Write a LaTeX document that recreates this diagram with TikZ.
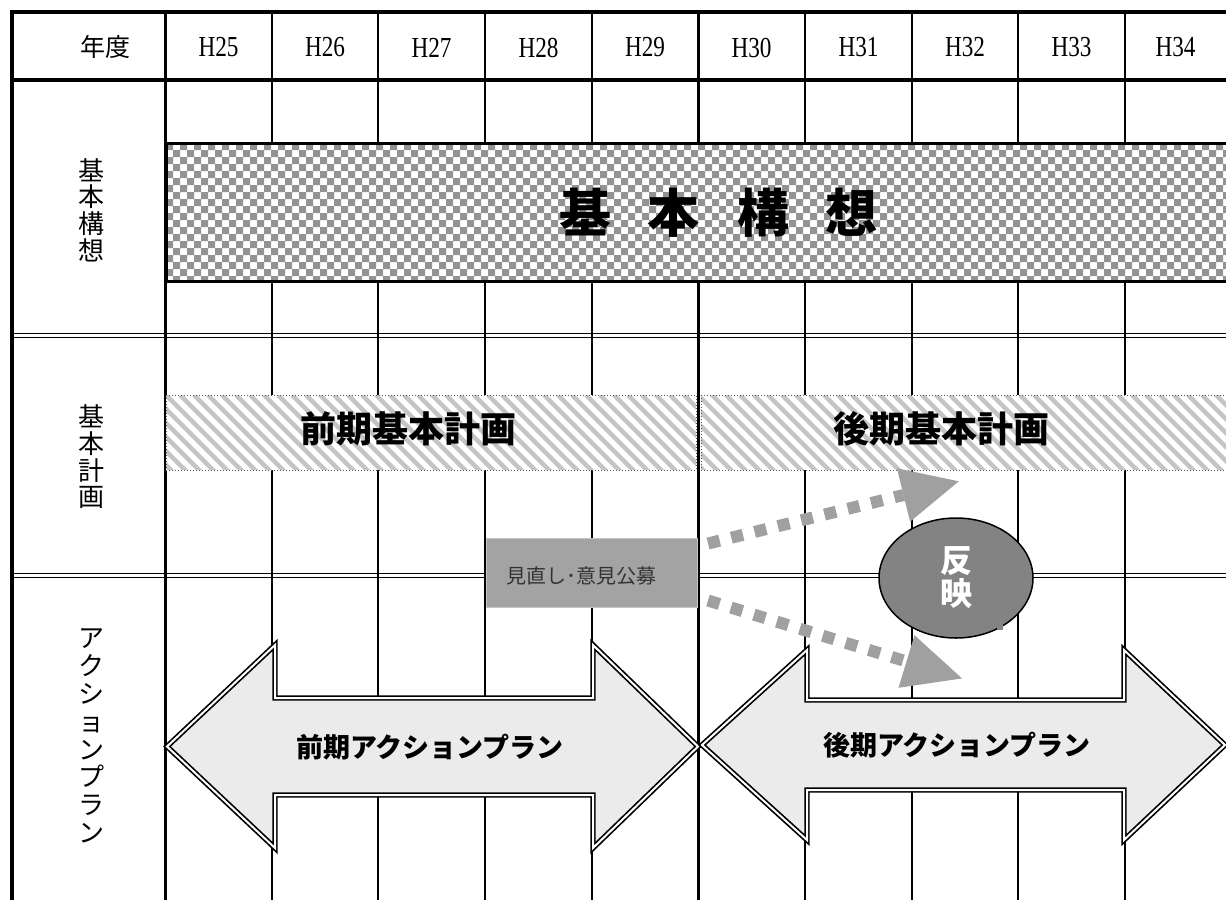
\documentclass[tikz,border=0pt]{standalone}
\usepackage{fontspec}
\setmainfont{Liberation Serif}
\newfontfamily\cjk{Noto Sans CJK JP}
\newfontfamily\hfont{Liberation Serif}[FakeStretch=0.8]
\usetikzlibrary{shapes.geometric}
\definecolor{chk}{HTML}{939393}
\definecolor{hatchc}{HTML}{C4C4C4}
\definecolor{arrfill}{HTML}{EBEBEB}
\definecolor{boxgray}{HTML}{A3A3A3}
\definecolor{dotgray}{HTML}{A0A0A0}
\definecolor{ellgray}{HTML}{838383}
\begin{document}
\begin{tikzpicture}[x=0.5pt,y=-0.5pt,
  thinline/.style={line width=1pt,black},
  boldline/.style={line width=1.5pt,black},
  heavyline/.style={line width=2pt,black},
  dblline/.style={line width=0.75pt,black},
  hatchline/.style={draw=hatchc,line width=2.2pt},
  barframe/.style={draw=gray!70!black,line width=0.5pt,densely dotted},
  bigarrow/.style={fill=arrfill,draw=black,line width=0.85pt,double=white,double distance=1pt,line join=miter},
  dotline/.style={draw=dotgray,line width=6pt,dash pattern=on 6pt off 6pt},
  yr/.style={font=\hfont\fontsize{14.5}{16}\selectfont,inner sep=0pt},
  vlabel/.style={font=\cjk\fontsize{13}{13.3}\selectfont,align=center,inner sep=0pt},
  boldtxt/.style={font=\cjk\bfseries\fontsize{18}{20}\selectfont,inner sep=0pt},
  arrtxt/.style={font=\cjk\bfseries\fontsize{13.5}{15}\selectfont,inner sep=0pt}
]
\useasboundingbox (0,0) rectangle (1226,900);
\clip (0,0) rectangle (1226,900);
\fill[white] (0,0) rectangle (1226,900);

% grid
\foreach \xv in {272,378,485,592,805,912,1018,1125}
  \draw[thinline] (\xv,12) -- (\xv,900);
\draw[boldline] (165,12) -- (165,900);
\draw[boldline] (698,12) -- (698,900);
\draw[heavyline] (12,80) -- (1226,80);
\foreach \yv in {333.5,337.5,573.5,577.5}
  \draw[dblline] (12,\yv) -- (1226,\yv);
\draw[heavyline,line join=miter] (12,900) -- (12,12) -- (1226,12);

% header
\node[font=\cjk\fontsize{12.5}{14}\selectfont,inner sep=0pt] (nendo) at (105,47) {年度};
\foreach \xc/\lab in {218.5/H25,325/H26,431.5/H27,538.5/H28,645/H29,751.5/H30,858.5/H31,965/H32,1071.5/H33,1175.5/H34}
  \node[yr] (\lab) at (\xc,47.5) {\lab};

% left labels
\node[vlabel] (lkousou) at (91,210) {基\\本\\構\\想};
\node[vlabel] (lkeikaku) at (91,457) {基\\本\\計\\画};
\node[vlabel,font=\cjk\fontsize{13}{13.9}\selectfont] (laction) at (91,736) {ア\\ク\\シ\\ョ\\ン\\プ\\ラ\\ン};

% basic concept checker box
\path[fill=white] (166,143) rectangle (1240,281);
\begin{scope}
  \clip (166,143) rectangle (1240,281);
  \fill[chk] \foreach \j in {0,...,19} { \foreach \i in {0,...,77} {
    ({166+(2*\i+mod(\j,2))*7},{143+\j*7}) rectangle ++(7,7) } };
\end{scope}
\draw[line width=1.5pt,line join=miter] (1240,143) -- (166,143) -- (166,281) -- (1240,281);
\node[font=\cjk\bfseries\fontsize{26}{28}\selectfont,inner sep=0pt] (kousou) at (718.5,213) {基\hspace{18.5pt}本\hspace{18.5pt}構\hspace{18.5pt}想};

% basic plan bars
\path[fill=white] (166,395) rectangle (696,470);
\path[fill=white] (701,395) rectangle (1240,470);
\begin{scope}
  \clip (166,395) rectangle (696,470) (701,395) rectangle (1240,470);
  \foreach \k in {-7,...,80}
    \draw[hatchline] ({166+\k*14},395) -- ++(80,80);
\end{scope}
\path[barframe] (166,395) rectangle (696,470);
\path[barframe] (701,395) rectangle (1240,470);
\node[boldtxt] (zenkikeikaku) at (408,429) {前期基本計画};
\node[boldtxt] (koukikeikaku) at (941,429) {後期基本計画};

% action plan arrows
\draw[bigarrow] (167,746.5) -- (275,645) -- (275,698) -- (593,698) -- (593,645) -- (698,746.5) -- (593,848) -- (593,795) -- (275,795) -- (275,848) -- cycle;
\draw[bigarrow] (702,745) -- (807,650) -- (807,700) -- (1124,700) -- (1124,650) -- (1225,745) -- (1124,840) -- (1124,790) -- (807,790) -- (807,840) -- cycle;
\node[arrtxt] (zenkiap) at (430,747) {前期アクションプラン};
\node[arrtxt] (koukiap) at (957,745) {後期アクションプラン};

% review box
\node[fill=boxgray,draw=gray!45,line width=0.5pt,minimum width=105.5pt,minimum height=34.5pt,inner sep=0pt] (minaoshi) at (591.5,572.5) {};
\node[font=\cjk\fontsize{10}{12}\selectfont,text=black!80,inner sep=0pt] (minaoshitxt) at (581.5,576) {見直し･意見公募};

% reflect ellipse
\node[ellipse,draw=black,line width=0.75pt,fill=ellgray,minimum width=77pt,minimum height=60pt,inner sep=0pt,text=white,align=center,font=\cjk\bfseries\fontsize{16}{16.5}\selectfont] (hanei) at (956,578) {反\\映};
\fill[ellgray] (997,621) rectangle (1003,630);

% dotted arrows
\coordinate (u0) at (708,543.5);
\coordinate (ub) at (903.5,495);
\coordinate (l0) at (708,600.5);
\coordinate (lb) at (906.5,661.5);
\draw[dotline] (u0) -- (ub);
\draw[dotline] (l0) -- (lb);
\fill[dotgray] (896.9,468.3) -- (958.8,481.3) -- (910.1,521.7) -- cycle;
\fill[dotgray] (914.5,635.2) -- (962,678.4) -- (898.5,687.8) -- cycle;
\end{tikzpicture}
\end{document}
